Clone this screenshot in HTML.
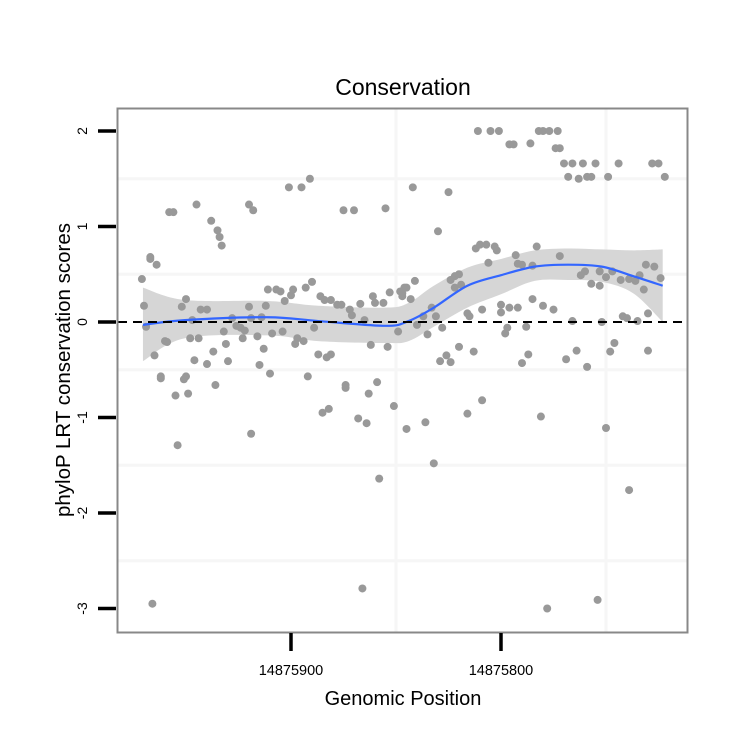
<!DOCTYPE html>
<html><head><meta charset="utf-8"><style>
body{margin:0;background:#fff;}
svg{display:block;font-family:"Liberation Sans",sans-serif;}
</style></head><body>
<svg id="chart" width="750" height="750" viewBox="0 0 750 750">
<text x="403" y="95" font-size="23" text-anchor="middle">Conservation</text>
<text x="403" y="705" font-size="20" text-anchor="middle">Genomic Position</text>
<text transform="translate(70,370) rotate(-90)" font-size="20.5" text-anchor="middle">phyloP LRT conservation scores</text>
<g id="grid"></g>
<g id="ribbon"></g>
<g id="points"></g>
<g id="fit"></g>
<line x1="118" y1="322" x2="686" y2="322" stroke="#000" stroke-width="2" stroke-dasharray="9,6"/>
<rect x="117.5" y="108.5" width="570" height="524" fill="none" stroke="#888" stroke-width="2"/>
<g id="axes"></g>
</svg>
<script>
const yTicks=[-3,-2,-1,0,1,2];
const xTicks=[14875900,14875800];
const xTickLabels=["14875900","14875800"];
// positions as offset from 14875700
const ptPos=[271,270,269,267,267,264,265,262,260,259,258,256,252,250,250,245,248,244,246,247,243,240,240,238,235,234,233,237,232,231,230,228,226,224,222,223,220,219,220,218,216,213,215,214,212,211,207,205,209,204,210,203,200,199,201,195,191,193,190,197,198,194,192,186,184,187,183,181,189,181,178,176,175,170,172,171,167,165,162,161,160,156,155,154,153,148,146,149,147,
262,251,255,249,254,236,219,185,182,174,174,168,164,163,159,151,145,158,266,166,
111,105,101,82,80,77,73,96,94,86,74,72,70,66,61,55,44,28,25,68,63,59,57,49,22,142,125,130,112,110,107,103,102,93,83,72,106,92,90,85,62,60,53,50,47,43,39,36,34,31,27,24,32,57,53,124,122,120,119,122,141,145,147,143,133,131,137,140,135,128,116,115,109,100,100,96,92,97,98,88,85,80,75,66,52,42,40,35,30,
120,113,126,129,124,87,90,69,64,59,46,48,30,136,116,109,81,50,132,39,78,54];
const ptVal=[.45,.17,-.05,.68,.66,.6,-.35,-.57,-.2,-.21,1.15,1.15,.16,.24,-.57,1.23,-.17,-.17,-.4,.02,.13,.13,-.44,1.06,.96,.89,.8,-.31,-.1,-.23,-.41,.04,-.04,-.06,-.09,-.17,.16,.04,1.23,1.17,-.15,-.28,-.45,.05,.17,.34,.34,.32,-.12,-.1,-.54,.22,.28,.34,1.41,1.41,1.5,.36,.42,-.17,-.23,-.2,-.57,.27,.23,-.34,-.37,-.34,-.06,.23,.18,.18,1.17,1.17,.13,.07,.19,.02,-.24,.27,.2,.2,1.19,-.26,.31,.32,.36,-.1,.27,
-.59,-.6,-.77,-.75,-1.29,-.66,-1.17,-.95,-.91,-.66,-.69,-1.01,-1.06,-.75,-.63,-.88,-1.12,-1.64,-2.95,-2.79,
2,2,2,2,2,2,2,1.86,1.86,1.87,1.82,1.82,1.66,1.66,1.66,1.66,1.66,1.66,1.66,1.52,1.5,1.52,1.52,1.52,1.52,1.41,1.36,.95,.77,.81,.81,.79,.75,.7,.79,.69,.62,.61,.6,.59,.49,.53,.53,.47,.53,.44,.45,.43,.49,.6,.58,.46,.34,.4,.38,.44,.48,.5,.39,.36,.43,.36,.3,.24,.15,.06,.06,-.03,-.13,-.06,.09,.06,.13,.18,.1,.15,.15,-.06,-.12,-.05,.24,.17,.13,.01,0,.06,.04,.01,.09,
-.26,-.31,-.35,-.41,-.42,-.34,-.43,-.39,-.3,-.47,-.22,-.31,-.3,-1.05,-.96,-.82,-.99,-1.11,-1.48,-1.76,-3.0,-2.91];
const fitPos=[270.5,250.5,211,187,155,144,132,116,100,84,68,52,37,23];
const fitVal=[-.03,.02,.05,.01,-.04,.01,.15,.38,.49,.58,.6,.58,.48,.38];
const fitLo=[-.41,-.17,-.14,-.2,-.22,-.2,-.05,.15,.29,.43,.44,.42,.3,0];
const fitHi=[.36,.23,.22,.17,.15,.2,.38,.57,.66,.75,.77,.76,.75,.76];

const NS='http://www.w3.org/2000/svg';
const X=o=>291+(200-o)*2.1;
const XG=p=>X(p-14875700);
const Y=v=>322-v*95.5;
function mk(tag,attrs,parent){const e=document.createElementNS(NS,tag);for(const k in attrs)e.setAttribute(k,attrs[k]);parent.appendChild(e);return e;}
function smooth(pts){let d='M'+pts[0][0]+','+pts[0][1];for(let i=0;i<pts.length-1;i++){const p0=pts[Math.max(i-1,0)],p1=pts[i],p2=pts[i+1],p3=pts[Math.min(i+2,pts.length-1)];
d+=' C'+(p1[0]+(p2[0]-p0[0])/6)+','+(p1[1]+(p2[1]-p0[1])/6)+' '+(p2[0]-(p3[0]-p1[0])/6)+','+(p2[1]-(p3[1]-p1[1])/6)+' '+p2[0]+','+p2[1];}return d;}

const grid=document.getElementById('grid');
[-2.5,-1.5,-0.5,0.5,1.5].forEach(v=>{const g=mk('line',{x1:118,x2:687,y1:Y(v),y2:Y(v),stroke:'#f6f6f6','stroke-width':3},grid);

});
[150,50].forEach(o=>{const g=mk('line',{x1:X(o),x2:X(o),y1:109,y2:632,stroke:'#f6f6f6','stroke-width':3},grid);

});

const rib=document.getElementById('ribbon');
const up=fitPos.map((p,i)=>[X(p),Y(fitHi[i])]);
const lo=fitPos.map((p,i)=>[X(p),Y(fitLo[i])]).reverse();
const rp=mk('path',{d:smooth(up)+' L'+lo[0][0]+','+lo[0][1]+' '+smooth(lo).slice(1)+' Z',fill:'#d6d6d6'},rib);



const pg=document.getElementById('points');
ptPos.forEach((p,i)=>{const c=mk('circle',{cx:X(p),cy:Y(ptVal[i]),r:4,fill:'#999'},pg);

});

const fl=mk('path',{d:smooth(fitPos.map((p,i)=>[X(p),Y(fitVal[i])])),fill:'none',stroke:'#3366ff','stroke-width':2.2},document.getElementById('fit'));



const ax=document.getElementById('axes');
yTicks.forEach(v=>{const t=mk('line',{x1:98,x2:116,y1:Y(v),y2:Y(v),stroke:'#000','stroke-width':3.5},ax);


const l=mk('text',{transform:'translate('+87+','+Y(v)+') rotate(-90)','font-size':14,'text-anchor':'middle'},ax);l.textContent=String(v);

});
xTicks.forEach((v,i)=>{const t=mk('line',{x1:XG(v),x2:XG(v),y1:633,y2:651,stroke:'#000','stroke-width':3.5},ax);


const l=mk('text',{x:XG(v),y:675,'font-size':14.5,'text-anchor':'middle'},ax);l.textContent=xTickLabels[i];

});
</script>
</body></html>
